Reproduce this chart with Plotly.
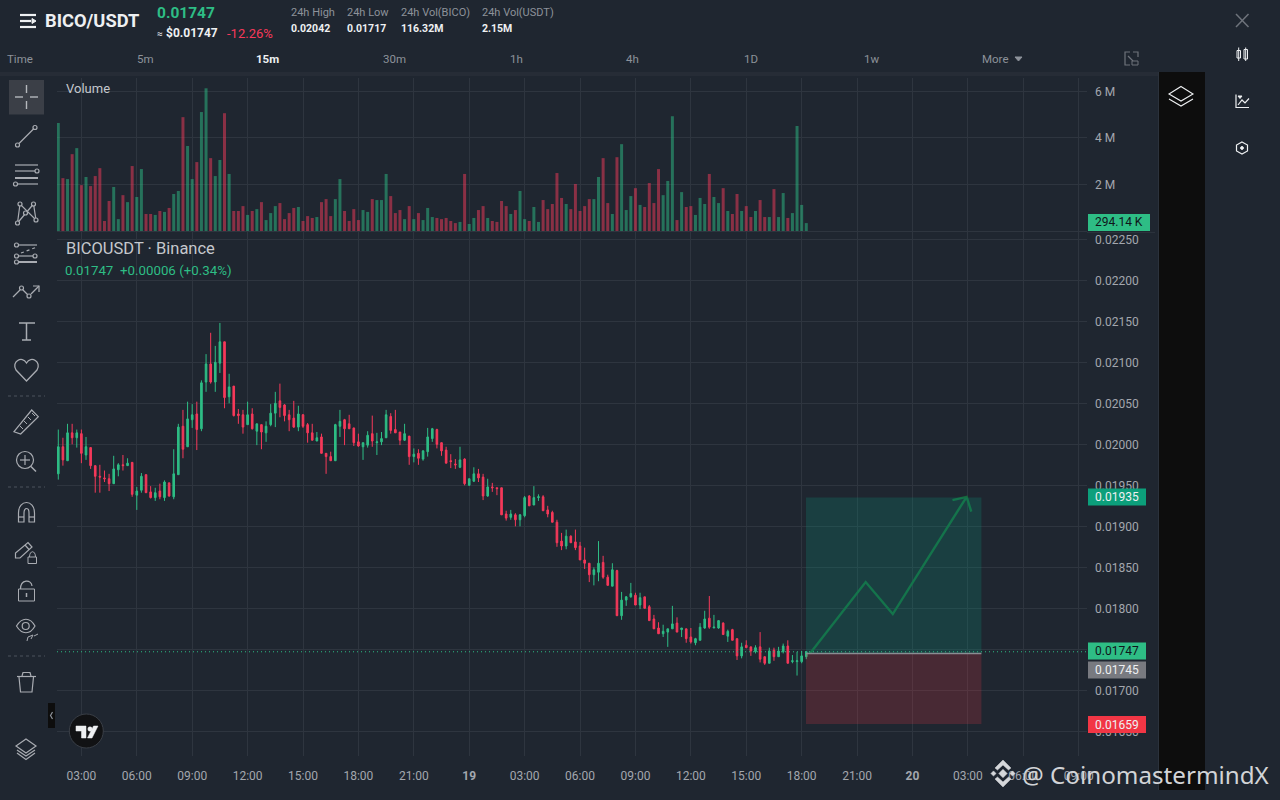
import pandas as pd
import plotly.graph_objects as go

# --- DATA (15m candles) ---
open_prices = [
    0.01964, 0.01997, 0.01980, 0.02014, 0.02008, 0.02013, 0.01987, 0.01996, 0.01974, 0.01961,
    0.01959, 0.01958, 0.01952, 0.01969, 0.01975, 0.01974, 0.01978, 0.01938, 0.01944, 0.01963,
    0.01942, 0.01935, 0.01943, 0.01935, 0.01953, 0.01936, 0.01963, 0.02022, 0.01997, 0.02030,
    0.02037, 0.02019, 0.02076, 0.02098, 0.02076, 0.02099, 0.02125, 0.02058, 0.02071, 0.02037,
    0.02036, 0.02024, 0.02037, 0.02016, 0.02024, 0.02014, 0.02024, 0.02038, 0.02053, 0.02048,
    0.02036, 0.02032, 0.02021, 0.02036, 0.02024, 0.02014, 0.02004, 0.02009, 0.01989, 0.01985,
    0.01980, 0.02022, 0.02030, 0.02025, 0.02020, 0.02003, 0.01997, 0.01999, 0.02013, 0.02002,
    0.02003, 0.02008, 0.02034, 0.02018, 0.02015, 0.02005, 0.02010, 0.01985, 0.01989, 0.01982,
    0.01991, 0.02007, 0.02018, 0.02002, 0.01993, 0.01980, 0.01976, 0.01972, 0.01982, 0.01950,
    0.01955, 0.01964, 0.01960, 0.01937, 0.01948, 0.01947, 0.01947, 0.01915, 0.01911, 0.01914,
    0.01908, 0.01913, 0.01937, 0.01926, 0.01935, 0.01936, 0.01920, 0.01917, 0.01905, 0.01882,
    0.01876, 0.01888, 0.01881, 0.01876, 0.01859, 0.01855, 0.01841, 0.01844, 0.01856, 0.01838,
    0.01827, 0.01846, 0.01791, 0.01810, 0.01814, 0.01816, 0.01804, 0.01814, 0.01802, 0.01787,
    0.01776, 0.01769, 0.01771, 0.01775, 0.01782, 0.01774, 0.01775, 0.01765, 0.01758, 0.01761,
    0.01776, 0.01788, 0.01776, 0.01776, 0.01782, 0.01766, 0.01774, 0.01763, 0.01742, 0.01755,
    0.01753, 0.01747, 0.01753, 0.01741, 0.01733, 0.01749, 0.01741, 0.01747, 0.01754, 0.01735,
    0.01735, 0.01735, 0.01741,
]
high_prices = [
    0.02018, 0.02008, 0.02025, 0.02025, 0.02018, 0.02018, 0.02009, 0.01996, 0.01974, 0.01975,
    0.01968, 0.01964, 0.01986, 0.01977, 0.01987, 0.01983, 0.01978, 0.01948, 0.01965, 0.01963,
    0.01949, 0.01947, 0.01952, 0.01956, 0.01953, 0.01994, 0.02025, 0.02042, 0.02052, 0.02049,
    0.02052, 0.02078, 0.02110, 0.02136, 0.02120, 0.02148, 0.02125, 0.02086, 0.02071, 0.02043,
    0.02042, 0.02052, 0.02044, 0.02025, 0.02024, 0.02028, 0.02049, 0.02064, 0.02074, 0.02049,
    0.02042, 0.02053, 0.02047, 0.02037, 0.02026, 0.02025, 0.02015, 0.02013, 0.01989, 0.01991,
    0.02025, 0.02042, 0.02031, 0.02036, 0.02020, 0.02013, 0.02002, 0.02016, 0.02035, 0.02014,
    0.02015, 0.02042, 0.02038, 0.02042, 0.02015, 0.02025, 0.02010, 0.01995, 0.01994, 0.01993,
    0.02020, 0.02020, 0.02019, 0.02002, 0.01997, 0.01988, 0.01982, 0.01997, 0.01983, 0.01958,
    0.01972, 0.01970, 0.01964, 0.01958, 0.01953, 0.01947, 0.01947, 0.01919, 0.01920, 0.01916,
    0.01915, 0.01937, 0.01938, 0.01949, 0.01939, 0.01938, 0.01925, 0.01919, 0.01908, 0.01892,
    0.01896, 0.01889, 0.01896, 0.01881, 0.01874, 0.01855, 0.01850, 0.01882, 0.01864, 0.01841,
    0.01855, 0.01847, 0.01820, 0.01815, 0.01831, 0.01819, 0.01819, 0.01814, 0.01804, 0.01792,
    0.01783, 0.01780, 0.01775, 0.01803, 0.01789, 0.01776, 0.01775, 0.01776, 0.01764, 0.01782,
    0.01797, 0.01815, 0.01792, 0.01785, 0.01783, 0.01774, 0.01775, 0.01763, 0.01758, 0.01761,
    0.01753, 0.01755, 0.01771, 0.01741, 0.01752, 0.01752, 0.01753, 0.01757, 0.01761, 0.01743,
    0.01747, 0.01748, 0.01748,
]
low_prices = [
    0.01957, 0.01974, 0.01980, 0.02000, 0.01996, 0.01977, 0.01981, 0.01970, 0.01941, 0.01941,
    0.01954, 0.01943, 0.01952, 0.01961, 0.01968, 0.01974, 0.01936, 0.01920, 0.01941, 0.01941,
    0.01934, 0.01931, 0.01933, 0.01931, 0.01936, 0.01933, 0.01963, 0.01983, 0.01997, 0.02020,
    0.01993, 0.02016, 0.02064, 0.02074, 0.02064, 0.02087, 0.02044, 0.02050, 0.02034, 0.02025,
    0.02013, 0.02024, 0.02018, 0.01999, 0.01994, 0.02003, 0.02022, 0.02021, 0.02033, 0.02028,
    0.02016, 0.02020, 0.02016, 0.02020, 0.02002, 0.02005, 0.02004, 0.01989, 0.01964, 0.01980,
    0.01980, 0.02009, 0.01999, 0.02019, 0.01998, 0.01997, 0.01981, 0.01996, 0.01997, 0.01987,
    0.01999, 0.02008, 0.02013, 0.02014, 0.01999, 0.02004, 0.01975, 0.01978, 0.01975, 0.01980,
    0.01985, 0.02003, 0.01995, 0.01986, 0.01977, 0.01971, 0.01970, 0.01971, 0.01950, 0.01950,
    0.01954, 0.01954, 0.01932, 0.01936, 0.01942, 0.01938, 0.01914, 0.01907, 0.01908, 0.01900,
    0.01900, 0.01911, 0.01925, 0.01926, 0.01931, 0.01919, 0.01911, 0.01905, 0.01875, 0.01871,
    0.01872, 0.01880, 0.01871, 0.01859, 0.01848, 0.01832, 0.01828, 0.01833, 0.01836, 0.01828,
    0.01827, 0.01791, 0.01786, 0.01803, 0.01813, 0.01804, 0.01799, 0.01800, 0.01785, 0.01775,
    0.01769, 0.01765, 0.01753, 0.01775, 0.01771, 0.01765, 0.01758, 0.01757, 0.01755, 0.01761,
    0.01775, 0.01775, 0.01776, 0.01775, 0.01768, 0.01759, 0.01761, 0.01737, 0.01739, 0.01752,
    0.01742, 0.01745, 0.01734, 0.01731, 0.01733, 0.01736, 0.01741, 0.01745, 0.01733, 0.01733,
    0.01718, 0.01733, 0.01738,
]
close_prices = [
    0.01997, 0.01981, 0.02014, 0.02008, 0.02014, 0.01989, 0.01997, 0.01974, 0.01961, 0.01960,
    0.01958, 0.01952, 0.01970, 0.01975, 0.01974, 0.01977, 0.01939, 0.01943, 0.01961, 0.01941,
    0.01935, 0.01941, 0.01936, 0.01954, 0.01937, 0.01964, 0.02021, 0.01994, 0.02031, 0.02036,
    0.02018, 0.02075, 0.02098, 0.02076, 0.02100, 0.02125, 0.02057, 0.02070, 0.02035, 0.02035,
    0.02021, 0.02036, 0.02019, 0.02025, 0.02015, 0.02022, 0.02038, 0.02050, 0.02045, 0.02035,
    0.02030, 0.02021, 0.02037, 0.02022, 0.02014, 0.02005, 0.02008, 0.01989, 0.01985, 0.01980,
    0.02024, 0.02028, 0.02019, 0.02019, 0.02002, 0.01998, 0.02002, 0.02011, 0.02004, 0.02003,
    0.02007, 0.02036, 0.02017, 0.02014, 0.02005, 0.02013, 0.01985, 0.01988, 0.01983, 0.01992,
    0.02009, 0.02019, 0.02000, 0.01992, 0.01977, 0.01979, 0.01975, 0.01981, 0.01952, 0.01958,
    0.01964, 0.01959, 0.01937, 0.01948, 0.01947, 0.01946, 0.01914, 0.01910, 0.01915, 0.01908,
    0.01914, 0.01935, 0.01925, 0.01935, 0.01936, 0.01919, 0.01915, 0.01905, 0.01880, 0.01876,
    0.01888, 0.01880, 0.01874, 0.01859, 0.01855, 0.01841, 0.01847, 0.01855, 0.01838, 0.01828,
    0.01847, 0.01791, 0.01810, 0.01814, 0.01818, 0.01804, 0.01813, 0.01800, 0.01785, 0.01775,
    0.01769, 0.01772, 0.01775, 0.01781, 0.01771, 0.01776, 0.01763, 0.01759, 0.01763, 0.01777,
    0.01787, 0.01777, 0.01777, 0.01785, 0.01768, 0.01772, 0.01761, 0.01742, 0.01753, 0.01752,
    0.01748, 0.01752, 0.01738, 0.01733, 0.01748, 0.01741, 0.01748, 0.01754, 0.01733, 0.01736,
    0.01736, 0.01742, 0.01747,
]
# volume in millions
volumes = [
    4.64, 2.27, 2.23, 3.30, 3.56, 1.97, 2.32, 1.93, 2.36, 2.70,
    0.43, 1.29, 1.89, 0.51, 1.54, 1.24, 2.79, 1.46, 2.66, 0.73,
    0.73, 0.69, 0.86, 0.82, 0.99, 1.59, 1.72, 4.89, 3.65, 2.23,
    2.96, 5.11, 6.13, 3.13, 2.36, 3.05, 5.06, 2.45, 0.86, 0.86,
    1.07, 0.69, 0.86, 0.94, 1.24, 0.47, 0.77, 1.07, 1.20, 0.51,
    0.77, 0.99, 1.03, 0.43, 0.64, 0.56, 0.60, 1.24, 1.37, 0.64,
    1.37, 2.23, 0.86, 0.43, 0.94, 0.47, 0.90, 0.82, 1.37, 1.33,
    1.33, 2.45, 1.50, 0.77, 0.90, 0.51, 1.07, 0.51, 0.77, 0.47,
    0.99, 0.60, 0.56, 0.51, 0.56, 0.43, 0.34, 0.39, 2.45, 0.30,
    0.56, 0.90, 1.07, 0.56, 0.43, 0.39, 1.29, 1.07, 0.73, 0.90,
    1.72, 0.51, 0.43, 1.03, 0.39, 1.33, 0.94, 1.16, 2.49, 1.42,
    1.16, 0.94, 2.02, 0.86, 1.07, 1.37, 1.37, 2.32, 3.13, 1.20,
    0.73, 3.17, 3.73, 0.90, 1.50, 1.84, 1.12, 1.03, 2.06, 1.20,
    2.66, 1.54, 2.15, 4.93, 0.47, 1.67, 1.03, 1.07, 0.69, 1.42,
    1.16, 2.45, 1.46, 1.20, 1.84, 0.86, 0.73, 1.59, 0.86, 1.07,
    0.60, 0.86, 1.33, 0.60, 0.60, 1.80, 0.60, 1.63, 0.56, 0.77,
    4.51, 1.12, 0.34,
]
candle_times = pd.date_range("2025-10-18 01:45", periods=len(open_prices), freq="15min")

time_tick_vals = ["2025-10-18 03:00", "2025-10-18 06:00", "2025-10-18 09:00", "2025-10-18 12:00",
                  "2025-10-18 15:00", "2025-10-18 18:00", "2025-10-18 21:00", "2025-10-19 00:00",
                  "2025-10-19 03:00", "2025-10-19 06:00", "2025-10-19 09:00", "2025-10-19 12:00",
                  "2025-10-19 15:00", "2025-10-19 18:00", "2025-10-19 21:00", "2025-10-20 00:00",
                  "2025-10-20 03:00", "2025-10-20 06:00", "2025-10-20 09:00"]
time_tick_text = ["03:00", "06:00", "09:00", "12:00", "15:00", "18:00", "21:00", "<b>19</b>",
                  "03:00", "06:00", "09:00", "12:00", "15:00", "18:00", "21:00", "<b>20</b>",
                  "03:00", "06:00", "09:00"]
volume_tick_vals = [2, 4, 6]
volume_tick_text = ["2 M", "4 M", "6 M"]

# long position tool
position_times = ["2025-10-19 18:14", "2025-10-20 03:44"]
target_price = 0.01935
entry_price = 0.01745
stop_price = 0.01659
last_price = 0.01747
arrow_times = ["2025-10-19 18:27", "2025-10-19 21:28", "2025-10-19 22:56", "2025-10-20 02:56"]
arrow_prices = [0.01745, 0.01832, 0.01793, 0.01936]
arrow_head_times = ["2025-10-20 02:10", "2025-10-20 02:56", "2025-10-20 03:11"]
arrow_head_prices = [0.01932, 0.01936, 0.01918]

# --- COLOURS / SIZES ---
W, H = 1280, 800
BG = "#1f2630"
GRID = "#2e353f"
UP = "#2ebd85"
DOWN = "#f6395a"
UP_VOL = "rgba(46,189,133,0.5)"
DOWN_VOL = "rgba(246,57,90,0.5)"
AXIS_TEXT = "#a3a7ae"
ICON = "#a9acb2"
WHITE = "#eef0f2"
FONT = "Roboto"

shapes = []
texts = []


# --- PIXEL HELPERS FOR THE APP CHROME ---
def fx(x):
    return x / W


def fy(y):
    return 1 - y / H


def seg(x0, y0, x1, y1, color=ICON, width=1.2, dash=None):
    shapes.append(dict(type="line", xref="paper", yref="paper", x0=fx(x0), y0=fy(y0), x1=fx(x1), y1=fy(y1),
                       line=dict(color=color, width=width, dash=dash)))


def box(x0, y0, x1, y1, fill, layer="below", line=None):
    shapes.append(dict(type="rect", xref="paper", yref="paper", x0=fx(x0), y0=fy(y0), x1=fx(x1), y1=fy(y1),
                       fillcolor=fill, layer=layer, line=dict(color=line or fill, width=1 if line else 0)))


def ring(cx, cy, r, color=ICON, fill="rgba(0,0,0,0)", width=1.2):
    shapes.append(dict(type="circle", xref="paper", yref="paper", x0=fx(cx - r), y0=fy(cy - r),
                       x1=fx(cx + r), y1=fy(cy + r), fillcolor=fill, line=dict(color=color, width=width)))


def path(cmds, color=ICON, width=1.2, fill="rgba(0,0,0,0)"):
    # cmds like ("M", x, y), ("L", x, y), ("C", x1, y1, x2, y2, x, y), ("Z",)
    out = []
    for c in cmds:
        pts = c[1:]
        coords = [f"{fx(pts[i]):.5f},{fy(pts[i + 1]):.5f}" for i in range(0, len(pts), 2)]
        out.append(c[0] + " ".join(coords))
    shapes.append(dict(type="path", xref="paper", yref="paper", path=" ".join(out), fillcolor=fill,
                       line=dict(color=color, width=width)))


def poly(points, color=ICON, width=1.2, fill="rgba(0,0,0,0)", closed=False):
    cmds = [("M", *points[0])] + [("L", *p) for p in points[1:]]
    if closed:
        cmds.append(("Z",))
    path(cmds, color, width, fill)


def label(x, y, text, size=12, color=AXIS_TEXT, anchor="left", family=FONT):
    # left-anchored annotations land about 1px right of x
    if anchor == "left":
        x -= 1
    texts.append(dict(xref="paper", yref="paper", x=fx(x), y=fy(y), text=text, showarrow=False,
                      xanchor=anchor, yanchor="middle", align=anchor, borderpad=0,
                      font=dict(size=size, color=color, family=family)))


def badge(y, text, fill, color, x1=1146):
    box(1088, y - 8.5, x1, y + 8.5, fill, layer="above")
    label((1088 + x1) / 2, y, text, 12, color, "center")


# --- SIDE PANELS ---
box(1159, 72, 1205, 790, "#0d0d0d")
seg(1158.5, 72, 1158.5, 790, "#2b323c", 1)
box(0, 72, 1159, 76, "#262c36")
seg(1087, 232.5, 1155, 232.5, "#2b323c", 1)

# --- HEADER ---
for yy in (15, 21, 27):
    seg(20, yy, 36 if yy != 21 else 31, yy, WHITE, 2.2)
poly([(32, 18.5), (36, 21), (32, 23.5)], WHITE, 1, WHITE, True)
label(45, 21, "<b>BICO/USDT</b>", 18.3, WHITE)
label(157, 13, "<b>0.01747</b>", 15.5, UP)
label(157, 33, "≈", 10, WHITE)
label(166, 33, "<b>$0.01747</b>", 12, WHITE)
label(227, 33, "-12.26%", 13, DOWN)
for xx, head, val in [(291, "24h High", "0.02042"), (347, "24h Low", "0.01717"),
                      (401, "24h Vol(BICO)", "116.32M"), (482, "24h Vol(USDT)", "2.15M")]:
    label(xx, 12, head, 11, "#8d929a")
    label(xx, 28, "<b>" + val + "</b>", 10.5, WHITE)

# --- TIMEFRAME ROW ---
for xx, tab in [(7, "Time"), (137, "5m"), (383, "30m"), (510, "1h"), (626, "4h"), (744, "1D"),
                (864, "1w"), (982, "More")]:
    label(xx, 59, tab, 11.5, "#8d929a")
label(256, 59, "<b>15m</b>", 11.5, WHITE)
poly([(1015, 57), (1022, 57), (1018.5, 61)], "#8d929a", 1, "#8d929a", True)
poly([(1130, 52), (1125, 52), (1125, 65), (1130, 65)], "#6e737b", 1.2)
poly([(1133, 52), (1138, 52), (1138, 57)], "#6e737b", 1.2)
seg(1128, 56, 1133, 61, "#6e737b", 1.2)
box(1132, 61, 1138, 65, BG, "above", "#6e737b")

# --- LEFT TOOLBAR ---
box(9, 80, 44, 114.5, "#3b3f47")
seg(15, 97, 23, 97, "#b5b8bd", 1.4)
seg(30, 97, 38, 97, "#b5b8bd", 1.4)
seg(26.5, 85, 26.5, 93, "#b5b8bd", 1.4)
seg(26.5, 101, 26.5, 109, "#b5b8bd", 1.4)
# trend line
seg(19, 143.5, 33.5, 129)
ring(17.5, 145, 2)
ring(35, 127.5, 2)
# horizontal lines
seg(15, 165, 38, 165)
seg(15, 171, 35, 171)
ring(37, 171, 2)
seg(15, 178, 38, 178, width=2)
seg(18, 184, 38, 184)
ring(15.5, 184, 2)
# pattern
poly([(17.5, 223), (20, 204), (36, 220), (33.5, 204), (17.5, 223)])
for cx, cy in [(20, 204), (33.5, 204), (17.5, 223), (36, 220), (25.5, 213)]:
    ring(cx, cy, 2, fill=BG)
# fib
seg(19, 245, 37, 245)
seg(21, 253, 37, 247, dash="dot")
seg(19, 256, 33, 256)
seg(19, 262, 37, 262, width=2)
for cx, cy in [(16.5, 245), (16.5, 256), (35, 256), (16.5, 262)]:
    ring(cx, cy, 2)
# prediction
poly([(13, 297), (20, 290)])
poly([(23, 290), (27.5, 294.5)])
poly([(31, 294), (39, 286)])
poly([(33, 286), (39, 286), (39, 292)])
ring(21.5, 288, 2)
ring(29, 296, 2)
# text
seg(19, 323, 35, 323, width=1.5)
seg(26.5, 323, 26.5, 340, width=1.5)
seg(22, 340, 31, 340, width=1.5)
# heart
path([("M", 26.5, 381), ("L", 16, 370), ("C", 11, 362, 22, 355, 26.5, 363),
      ("C", 31, 355, 42, 362, 37, 370), ("Z",)], width=1.3)
seg(8, 396, 45, 396, "#4d535c", 1, "dot")
# ruler
poly([(14, 431.7), (31.7, 410), (38.3, 416.7), (20.7, 434)], closed=True)
for t0, t1 in [((20, 426), (23, 429)), ((24, 421), (27, 424)), ((28, 417), (31, 420)), ((32, 413), (35, 416))]:
    seg(t0[0], t0[1], t1[0], t1[1], width=1)
# zoom
ring(25, 460, 8.5)
seg(25, 455, 25, 465)
seg(20, 460, 30, 460)
seg(31, 466.5, 36, 471.5, width=1.5)
seg(8, 487, 45, 487, "#4d535c", 1, "dot")
# magnet
path([("M", 18.5, 522), ("L", 18.5, 513), ("C", 18.5, 499, 34.5, 499, 34.5, 513), ("L", 34.5, 522),
      ("L", 29, 522), ("L", 29, 513), ("C", 29, 507, 24, 507, 24, 513), ("L", 24, 522), ("Z",)])
seg(18.5, 517, 24, 517)
seg(29, 517, 34.5, 517)
# pen + lock
poly([(15.5, 558), (15.5, 553), (28, 542.5), (32, 547), (20, 558)], closed=True)
seg(25, 545, 29, 549.5)
box(28, 557, 36.5, 563.5, BG, "above", ICON)
path([("M", 29.5, 557), ("C", 29.5, 550, 35.5, 550, 35.5, 557)], width=1)
# unlock
box(18.5, 589, 34.5, 601, BG, "above", ICON)
path([("M", 20.5, 589), ("C", 20.5, 579, 31.5, 579, 32, 586)])
seg(26.5, 593, 26.5, 597, width=1.5)
# eye
path([("M", 16.5, 626), ("C", 22, 617, 30, 617, 35, 626), ("C", 30, 635, 22, 635, 16.5, 626), ("Z",)])
ring(25.7, 626, 3.5)
poly([(27, 641), (28, 637), (33, 635), (31, 639)], width=1)
seg(34, 636, 38, 634, width=1)
seg(8, 656, 45, 656, "#4d535c", 1, "dot")
# trash
seg(17, 676.5, 36, 676.5)
poly([(22, 676), (23, 672.5), (30, 672.5), (31, 676)])
poly([(19, 677), (20.5, 692), (32, 692), (33.5, 677)])
# collapse pill and TradingView logo
box(48, 703, 55, 728, "#0d0d0d")
poly([(52.5, 712), (50.5, 715.5), (52.5, 719)], "#8d929a", 1.2)
ring(86.3, 731, 17, "#3a3f47", "#111214", 1)
poly([(76, 726), (86, 726), (86, 738), (81.5, 738), (81.5, 731), (76, 731)], WHITE, 0.5, WHITE, True)
ring(90, 729, 2.2, WHITE, WHITE, 0.5)
poly([(93.5, 726), (98, 726), (92, 738), (87.5, 738)], WHITE, 0.5, WHITE, True)
# layers
poly([(26, 739), (36, 746), (26, 753), (16, 746)], closed=True)
poly([(17, 750), (26, 756), (35, 750)])
poly([(17, 753), (26, 759.5), (35, 753)])

# --- RIGHT ICONS ---
seg(1236, 14, 1248.5, 27, "#6e737b", 1.5)
seg(1248.5, 14, 1236, 27, "#6e737b", 1.5)
box(1237, 50.5, 1240.5, 58, BG, "above", WHITE)
box(1244, 49.5, 1247.5, 59, BG, "above", WHITE)
seg(1238.7, 47.5, 1238.7, 61, WHITE, 1)
seg(1245.7, 47.5, 1245.7, 61, WHITE, 1)
poly([(1236, 94.5), (1236, 107.5), (1249, 107.5)], WHITE, 1.2)
poly([(1238, 105), (1242, 100), (1245, 103), (1249, 98.5)], WHITE, 1.2)
poly([(1238, 96), (1242, 96), (1240, 98.5)], WHITE, 1, WHITE, True)
poly([(1242, 142), (1247.5, 145), (1247.5, 151), (1242, 154), (1236.5, 151), (1236.5, 145)], WHITE, 1.2, closed=True)
ring(1242, 148, 1.4, WHITE, WHITE, 1)
poly([(1181, 86.5), (1193, 94), (1181, 101), (1169, 94)], WHITE, 1.1, closed=True)
poly([(1169, 99), (1181, 106), (1193, 99)], WHITE, 1.1)

# --- CHART LABELS ---
label(66, 88.5, "Volume", 13, "#c5c8cd")
label(66, 248.5, "BICOUSDT · Binance", 16.5, "#c5c8cd")
label(65, 270, "0.01747  +0.00006 (+0.34%)", 13.3, UP)

# --- PRICE BADGES ---
badge(222.5, "294.14 K", UP, "#10151b", 1150)
badge(497, "0.01935", "#0c9f7b", WHITE)
badge(651, "0.01747", UP, "#10151b")
badge(670, "0.01745", "#787a80", WHITE)
badge(724.5, "0.01659", "#f23645", WHITE)

# --- WATERMARK ---
MARK = "#d5d7da"
for cx, r in [(1003, 4.2), (993.5, 2.6), (1012.5, 2.6)]:
    poly([(cx, 773.5 - r), (cx + r, 773.5), (cx, 773.5 + r), (cx - r, 773.5)], MARK, 0.5, MARK, True)
poly([(1003, 760), (1011, 768), (1008.5, 770), (1003, 765), (997.5, 770), (995, 768)], MARK, 0.5, MARK, True)
poly([(1003, 787), (1011, 779), (1008.5, 777), (1003, 782), (997.5, 777), (995, 779)], MARK, 0.5, MARK, True)
label(1022, 774, "@ Coinomastermind​X", 24.2, "#d2d4d7", family="Noto Sans")

# --- POSITION TOOL (data coordinates) ---
shapes.append(dict(type="rect", xref="x", yref="y", x0=position_times[0], x1=position_times[1],
                   y0=entry_price, y1=target_price, fillcolor="rgba(8,153,129,0.22)", line_width=0))
shapes.append(dict(type="rect", xref="x", yref="y", x0=position_times[0], x1=position_times[1],
                   y0=stop_price, y1=entry_price, fillcolor="rgba(242,54,69,0.2)", line_width=0))
shapes.append(dict(type="line", xref="x", yref="y", x0=position_times[0], x1=position_times[1],
                   y0=entry_price, y1=entry_price, line=dict(color="#8a8d92", width=1.5)))
shapes.append(dict(type="line", xref="x domain", yref="y", x0=0, x1=1, y0=last_price, y1=last_price,
                   line=dict(color=UP, width=1, dash="1px,3px")))

# --- FIGURE ---
vol_colors = [UP_VOL if c >= o else DOWN_VOL for o, c in zip(open_prices, close_prices)]

fig = go.Figure()
fig.add_trace(go.Bar(x=candle_times, y=volumes, marker=dict(color=vol_colors, line_width=0), xaxis="x", yaxis="y2"))
fig.add_trace(go.Candlestick(
    x=candle_times, open=open_prices, high=high_prices, low=low_prices, close=close_prices,
    increasing=dict(line=dict(color=UP, width=1), fillcolor=UP),
    decreasing=dict(line=dict(color=DOWN, width=1), fillcolor=DOWN),
    whiskerwidth=0, xaxis="x", yaxis="y",
))
fig.add_trace(go.Scatter(x=arrow_times, y=arrow_prices, mode="lines", line=dict(color="#18693d", width=2.4),
                         xaxis="x", yaxis="y"))
fig.add_trace(go.Scatter(x=arrow_head_times, y=arrow_head_prices, mode="lines", line=dict(color="#18693d", width=2.4),
                         xaxis="x", yaxis="y"))

fig.update_layout(
    width=W, height=H, margin=dict(l=0, r=0, t=0, b=0, autoexpand=False),
    paper_bgcolor=BG, plot_bgcolor=BG, showlegend=False, hovermode=False,
    dragmode=False, bargap=0.35, boxgap=0.5, font=dict(family=FONT, color=AXIS_TEXT, size=12),
    shapes=shapes, annotations=texts,
    xaxis=dict(
        type="date", domain=[57 / W, 1087 / W], anchor="y",
        range=["2025-10-18 01:40:47", "2025-10-20 09:27"],
        tickmode="array", tickvals=time_tick_vals, ticktext=time_tick_text, ticks="",
        ticklabelstandoff=11, tickfont=dict(size=12, color=AXIS_TEXT),
        gridcolor=GRID, gridwidth=1, showline=False, zeroline=False,
        rangeslider=dict(visible=False),
    ),
    yaxis=dict(
        domain=[1 - 756 / H, 1 - 233 / H], anchor="x", side="right",
        range=[0.016199, 0.022577], tick0=0.0165, dtick=0.0005, tickformat=".5f", ticks="",
        ticklabelstandoff=7, tickfont=dict(size=12, color=AXIS_TEXT),
        gridcolor=GRID, gridwidth=1, showline=False, zeroline=False,
    ),
    yaxis2=dict(
        domain=[1 - 233 / H, 1 - 78 / H], anchor="x", side="right",
        range=[-0.086, 6.572], tickmode="array", tickvals=[0] + volume_tick_vals, ticktext=[""] + volume_tick_text,
        ticks="", ticklabelstandoff=7, tickfont=dict(size=12, color=AXIS_TEXT),
        gridcolor=GRID, gridwidth=1, showline=False, zeroline=False,
    ),
)

fig.write_html("out.html", config=dict(displayModeBar=False), post_script="document.body.style.margin='0';")
